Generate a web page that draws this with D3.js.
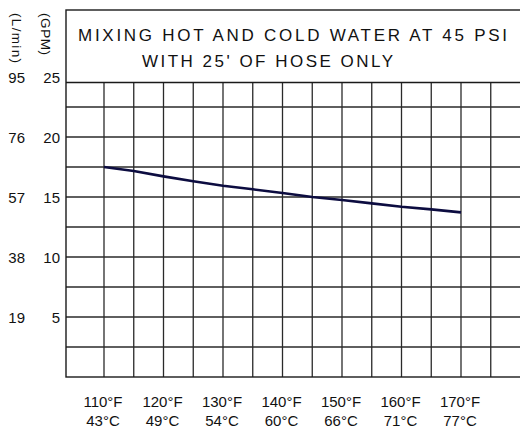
<!DOCTYPE html>
<html>
<head>
<meta charset="utf-8">
<script src="https://cdn.jsdelivr.net/npm/d3@7"></script>
<style>
  body { margin: 0; background: #fff; }
  text { font-family: "Liberation Sans", Arial, sans-serif; fill: #111; }
</style>
</head>
<body>
<svg id="chart"></svg>
<script>
  // data
  var tempF = [110, 115, 120, 125, 130, 135, 140, 145, 150, 155, 160, 165, 170];
  var flowGPM = [17.5, 17.17, 16.72, 16.31, 15.94, 15.64, 15.33, 15.0, 14.75, 14.47, 14.19, 13.97, 13.72];
  var labelTempsF = [110, 120, 130, 140, 150, 160, 170];
  var labelsF = ["110°F", "120°F", "130°F", "140°F", "150°F", "160°F", "170°F"];
  var labelsC = ["43°C", "49°C", "54°C", "60°C", "66°C", "71°C", "77°C"];
  var gpmTicks = [5, 10, 15, 20, 25];
  var lpmTicks = [19, 38, 57, 76, 95];
  var gridTemps = [110, 115, 120, 125, 130, 135, 140, 145, 150, 155, 160, 165, 170, 175];
  var gridFlows = [2.5, 5, 7.5, 10, 12.5, 15, 17.5, 20, 22.5];
  var titleLines = ["MIXING HOT AND COLD WATER AT 45 PSI", "WITH 25' OF HOSE ONLY"];

  var W = 520, H = 428;
  // frame edges (named to avoid clashing with window.top)
  var frameLeft = 66, frameRight = 530, frameTop = 10, plotTop = 82.5, plotBottom = 377;

  var svg = d3.select("#chart").attr("width", W).attr("height", H);

  var x = d3.scaleLinear().domain([110, 170]).range([104, 461]);
  var y = d3.scaleLinear().domain([0, 25]).range([plotBottom, 77]);

  // grid
  var grid = svg.append("g").attr("stroke", "#2a2a2a").attr("stroke-width", 1.3);
  grid.selectAll("line.v")
    .data(gridTemps)
    .enter().append("line")
      .attr("class", "v")
      .attr("x1", function(d) { return x(d); })
      .attr("x2", function(d) { return x(d); })
      .attr("y1", plotTop)
      .attr("y2", plotBottom);
  grid.selectAll("line.h")
    .data(gridFlows)
    .enter().append("line")
      .attr("class", "h")
      .attr("x1", frameLeft)
      .attr("x2", frameRight)
      .attr("y1", function(d) { return y(d); })
      .attr("y2", function(d) { return y(d); });

  // frame: title box + plot box
  var frame = svg.append("g").attr("stroke", "#1a1a1a").attr("stroke-width", 1.4).attr("fill", "none");
  frame.append("rect")
    .attr("x", frameLeft).attr("y", frameTop)
    .attr("width", frameRight - frameLeft).attr("height", plotBottom - frameTop);
  frame.append("line")
    .attr("x1", frameLeft).attr("x2", frameRight)
    .attr("y1", plotTop).attr("y2", plotTop);

  // title
  svg.append("text").attr("x", 78).attr("y", 40.5)
    .attr("textLength", 429).attr("lengthAdjust", "spacing")
    .style("font-size", "17px").text(titleLines[0]);
  svg.append("text").attr("x", 142).attr("y", 67)
    .attr("textLength", 251).attr("lengthAdjust", "spacing")
    .style("font-size", "17px").text(titleLines[1]);

  // flow curve
  var line = d3.line()
    .x(function(d, i) { return x(tempF[i]); })
    .y(function(d) { return y(d); });
  svg.append("path")
    .datum(flowGPM)
    .attr("d", line)
    .attr("fill", "none")
    .attr("stroke", "#0c0c40")
    .attr("stroke-width", 2.6);

  // y labels (GPM and L/min)
  svg.selectAll("text.gpm")
    .data(gpmTicks)
    .enter().append("text")
      .attr("class", "gpm")
      .attr("x", 60)
      .attr("y", function(d) { return y(d) + 6; })
      .attr("text-anchor", "end")
      .style("font-size", "15px")
      .text(function(d) { return d; });
  svg.selectAll("text.lpm")
    .data(lpmTicks)
    .enter().append("text")
      .attr("class", "lpm")
      .attr("x", 25)
      .attr("y", function(d, i) { return y(gpmTicks[i]) + 6; })
      .attr("text-anchor", "end")
      .style("font-size", "15px")
      .text(function(d) { return d; });

  // rotated unit labels
  svg.append("text")
    .attr("transform", "translate(12,13) rotate(90)")
    .attr("textLength", 50).attr("lengthAdjust", "spacing")
    .style("font-size", "13.5px")
    .text("(L/min)");
  svg.append("text")
    .attr("transform", "translate(41,13) rotate(90)")
    .attr("textLength", 42).attr("lengthAdjust", "spacing")
    .style("font-size", "13.5px")
    .text("(GPM)");

  // x labels
  svg.selectAll("text.f")
    .data(labelTempsF)
    .enter().append("text")
      .attr("class", "f")
      .attr("x", function(d) { return x(d) - 1; })
      .attr("y", 407)
      .attr("text-anchor", "middle")
      .style("font-size", "15px")
      .text(function(d, i) { return labelsF[i]; });
  svg.selectAll("text.c")
    .data(labelTempsF)
    .enter().append("text")
      .attr("class", "c")
      .attr("x", function(d) { return x(d) - 1; })
      .attr("y", 425.5)
      .attr("text-anchor", "middle")
      .style("font-size", "15px")
      .text(function(d, i) { return labelsC[i]; });
</script>
</body>
</html>
